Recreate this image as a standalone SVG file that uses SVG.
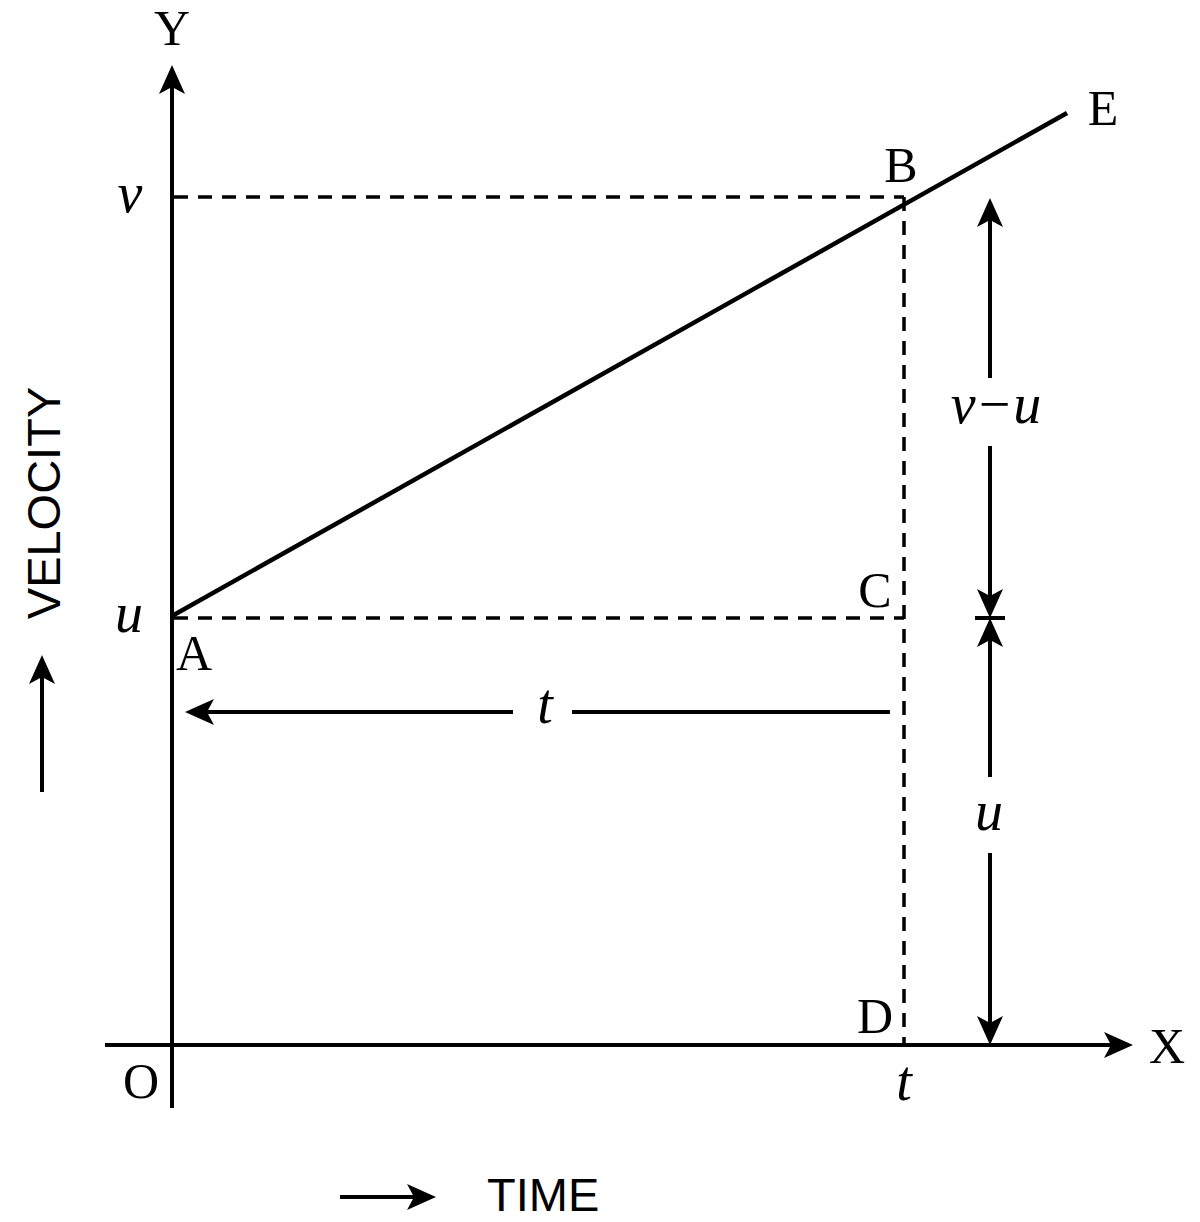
<svg xmlns="http://www.w3.org/2000/svg" width="1200" height="1222" viewBox="0 0 1200 1222">
<style>
.ln{stroke:#000;stroke-width:4;fill:none}
.dash{stroke:#000;stroke-width:3.5;fill:none;stroke-dasharray:14 10}
.lbl{font-family:"Liberation Serif","DejaVu Serif",serif;font-size:50px;fill:#000;text-anchor:middle}
.it{font-family:"Liberation Serif","DejaVu Serif",serif;font-style:italic;font-size:56px;fill:#000;text-anchor:middle}
.sans{font-family:"Liberation Sans",Arial,sans-serif;font-size:47px;fill:#000}
</style>
<defs>
<marker id="ah" viewBox="-26 -14 34 28" refX="0" refY="0" markerWidth="34" markerHeight="28" markerUnits="userSpaceOnUse" orient="auto">
<path d="M6,0 L-23,-13 L-16,0 L-23,13 Z" fill="#000"/>
</marker>
</defs>
<g id="connectors">
<line class="ln" x1="172" y1="1108" x2="172" y2="71" marker-end="url(#ah)"/>
<line class="ln" x1="105" y1="1045" x2="1127" y2="1045" marker-end="url(#ah)"/>
<line class="dash" x1="174" y1="197" x2="904" y2="197"/>
<line class="dash" x1="174" y1="618" x2="904" y2="618"/>
<line class="dash" x1="904" y1="197" x2="904" y2="1045"/>
<line class="ln" style="stroke-width:4.5" x1="172" y1="616" x2="1067" y2="113"/>
<line class="ln" x1="513" y1="712" x2="191" y2="712" marker-end="url(#ah)"/>
<line class="ln" x1="572" y1="712" x2="890" y2="712"/>
<line class="ln" x1="990" y1="378" x2="990" y2="204" marker-end="url(#ah)"/>
<line class="ln" x1="990" y1="446" x2="990" y2="612" marker-end="url(#ah)"/>
<line class="ln" x1="975" y1="618" x2="1005" y2="618"/>
<line class="ln" x1="990" y1="777" x2="990" y2="624" marker-end="url(#ah)"/>
<line class="ln" x1="990" y1="853" x2="990" y2="1039" marker-end="url(#ah)"/>
<line class="ln" x1="42" y1="792" x2="42" y2="661" marker-end="url(#ah)"/>
<line class="ln" x1="340" y1="1197" x2="430" y2="1197" marker-end="url(#ah)"/>
</g>
<g id="labels">
<text class="lbl" x="172" y="45">Y</text>
<text class="lbl" x="1167" y="1063">X</text>
<text class="lbl" x="141" y="1098">O</text>
<text class="lbl" x="194" y="670">A</text>
<text class="lbl" x="901" y="182">B</text>
<text class="lbl" x="875" y="607">C</text>
<text class="lbl" x="875" y="1033">D</text>
<text class="lbl" x="1103" y="125">E</text>
<text class="it" x="130" y="212">v</text>
<text class="it" x="129" y="632">u</text>
<text class="it" x="545" y="723">t</text>
<text class="it" x="904" y="1100">t</text>
<text class="it" x="996" y="423">v−u</text>
<text class="it" x="989" y="830">u</text>
<text class="sans" text-anchor="middle" transform="translate(60,503) rotate(-90)">VELOCITY</text>
<text class="sans" x="487" y="1211">TIME</text>
</g>
</svg>
